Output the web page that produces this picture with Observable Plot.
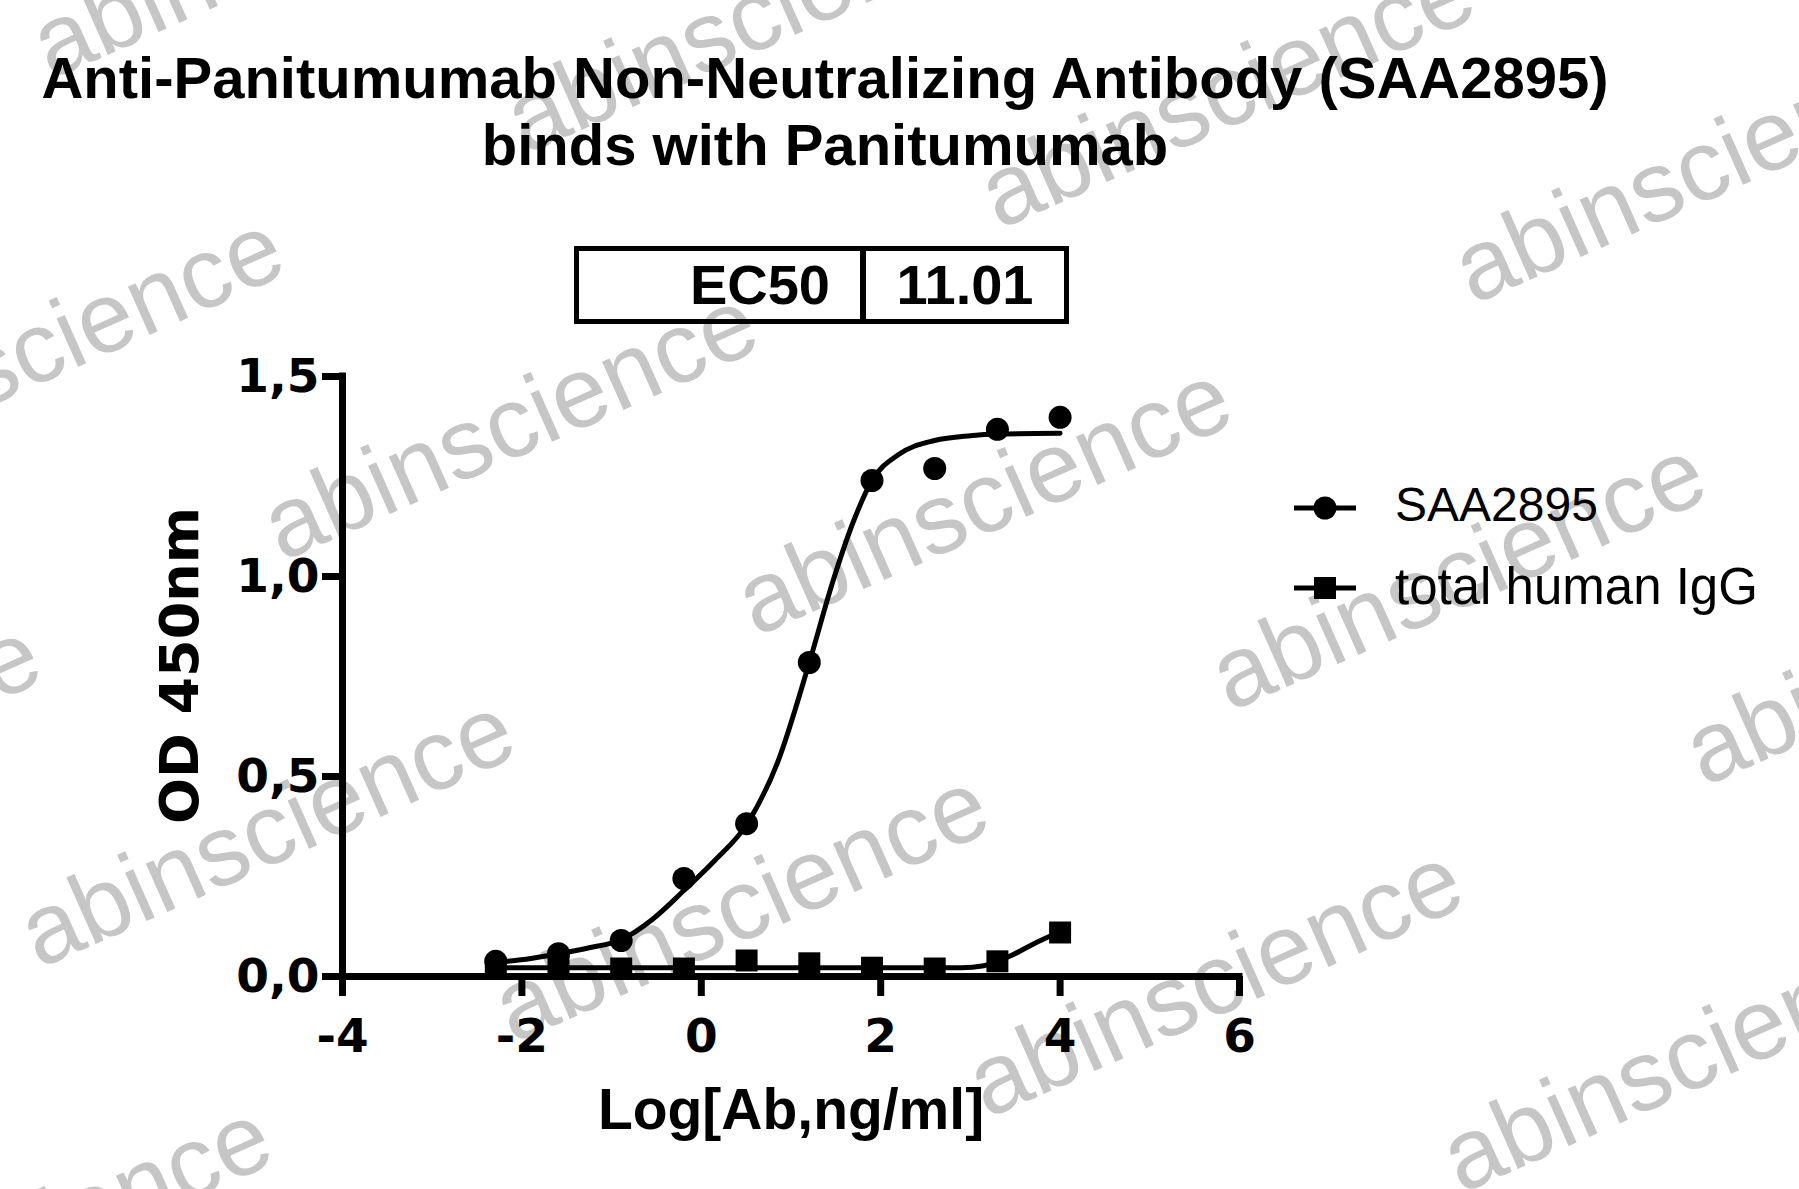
<!DOCTYPE html>
<html>
<head>
<meta charset="utf-8">
<script src="https://cdn.jsdelivr.net/npm/d3@7"></script>
<script src="https://cdn.jsdelivr.net/npm/@observablehq/plot@0.6"></script>
<style>
  html, body { margin: 0; padding: 0; background: #fff; }
  #page { position: relative; width: 1799px; height: 1189px; overflow: hidden; background: #fff; }
  #wm { position: absolute; left: 0; top: 0; }
  #chart { position: absolute; left: 0; top: 0; }
  #title { position: absolute; left: 0; top: 44px; width: 1650px; text-align: center;
           font-family: "Liberation Sans", Arial, sans-serif; font-weight: bold; font-size: 58px; line-height: 67px; color: #000; }
  #ec50 { position: absolute; left: 574px; top: 246px; width: 495px; height: 78px; box-sizing: border-box;
          border: 5px solid #000; display: flex; font-family: "Liberation Sans", Arial, sans-serif; font-weight: bold;
          font-size: 56px; line-height: 62px; }
  #ec50 .c1 { width: 281px; text-align: right; padding-right: 30px; box-sizing: border-box; padding-top: 3px; }
  #ec50 .c2 { flex: 1; border-left: 6px solid #000; text-align: center; padding-top: 3px; }
  #legend { position: absolute; left: 0; top: 0; }
</style>
</head>
<body>
<div id="page">
  <svg id="wm" width="1799" height="1189"></svg>
  <div id="chart"></div>
  <div id="title">Anti-Panitumumab Non-Neutralizing Antibody (SAA2895)<br>binds with Panitumumab</div>
  <div id="ec50"><div class="c1">EC50</div><div class="c2">11.01</div></div>
  <svg id="legend" width="1799" height="1189"></svg>
</div>
<script>
// ---- data ----
const logConc = [-2.291, -1.592, -0.893, -0.194, 0.505, 1.204, 1.903, 2.602, 3.301, 4.0];
const saa2895 = [0.038, 0.057, 0.090, 0.245, 0.382, 0.785, 1.240, 1.270, 1.368, 1.398];
const totalIgG = [0.020, 0.023, 0.020, 0.020, 0.040, 0.033, 0.022, 0.020, 0.038, 0.110];

// fitted curves
const saaFitX = [-2.291, -1.9, -1.592, -1.25, -0.893, -0.55, -0.194, 0.15, 0.505, 0.85, 1.204, 1.47, 1.7, 1.903, 2.2, 2.6, 3.0, 3.3, 4.0];
const saaFitY = [0.035, 0.045, 0.057, 0.072, 0.092, 0.142, 0.215, 0.29, 0.38, 0.535, 0.785, 0.99, 1.14, 1.24, 1.305, 1.34, 1.352, 1.356, 1.358];
const iggFitX = [-2.291, 0, 2.9, 3.15, 3.3, 3.45, 3.65, 3.86, 4.0];
const iggFitY = [0.022, 0.022, 0.022, 0.027, 0.038, 0.052, 0.075, 0.098, 0.110];

const xTicks = [-4, -2, 0, 2, 4, 6];
const yTicks = [0, 0.5, 1.0, 1.5];
const seriesNames = ["SAA2895", "total human IgG"];
const xLabel = "Log[Ab,ng/ml]";
const yLabel = "OD 450nm";
const watermarkText = "abinscience";

// ---- build tables ----
const saaPts = logConc.map((x, i) => ({x, y: saa2895[i]}));
const iggPts = logConc.map((x, i) => ({x, y: totalIgG[i]}));
const saaFit = saaFitX.map((x, i) => ({x, y: saaFitY[i]}));
const iggFit = iggFitX.map((x, i) => ({x, y: iggFitY[i]}));

const plot = Plot.plot({
  width: 1799,
  height: 1189,
  marginLeft: 342,
  marginRight: 560,
  marginTop: 376,
  marginBottom: 213,
  x: {domain: [-4, 6]},
  y: {domain: [0, 1.5]},
  style: {fontFamily: "DejaVu Sans", fontWeight: "bold", fontSize: "46px", background: "transparent", color: "#000", overflow: "visible"},
  marks: [
    Plot.line(iggFit, {x: "x", y: "y", stroke: "#000", strokeWidth: 5, curve: "monotone-x"}),
    Plot.line(saaFit, {x: "x", y: "y", stroke: "#000", strokeWidth: 5, curve: "monotone-x"}),
    Plot.dot(iggPts, {x: "x", y: "y", symbol: "square", r: 12.4, fill: "#000", stroke: null}),
    Plot.dot(saaPts, {x: "x", y: "y", symbol: "circle", r: 11.5, fill: "#000", stroke: null}),
    Plot.ruleX([-4], {y1: 0, y2: 1.5, stroke: "#000", strokeWidth: 7, strokeLinecap: "square"}),
    Plot.ruleY([0], {x1: -4, x2: 6, stroke: "#000", strokeWidth: 7, strokeLinecap: "square"}),
    Plot.axisX({ticks: xTicks, tickSize: 20, tickPadding: 22, strokeWidth: 7, label: null,
                tickFormat: d => String(d), fontSize: 47, fontWeight: "bold", fontFamily: "DejaVu Sans"}),
    Plot.axisY({ticks: yTicks, tickSize: 20, tickPadding: 3, strokeWidth: 7, label: null,
                tickFormat: d => d.toFixed(1).replace(".", ","), fontSize: 47, fontWeight: "bold", fontFamily: "DejaVu Sans"}),
    Plot.text([yLabel], {frameAnchor: "left", text: d => d, rotate: -90, dx: -162, dy: -11,
                lineAnchor: "middle", textAnchor: "middle", fontSize: 54, fontWeight: "bold", fontFamily: "DejaVu Sans"}),
    Plot.text([xLabel], {frameAnchor: "bottom", text: d => d, dy: 152, lineAnchor: "bottom",
                textAnchor: "middle", fontSize: 57, fontWeight: "bold", fontFamily: "Liberation Sans"})
  ]
});
document.getElementById("chart").appendChild(plot);

// ---- legend ----
const lg = d3.select("#legend");
const legendRows = [
  {name: seriesNames[0], symbol: "circle", cy: 508, base: 521, size: 48},
  {name: seriesNames[1], symbol: "square", cy: 588, base: 604, size: 51}
];
legendRows.forEach(r => {
  lg.append("line").attr("x1", 1294).attr("x2", 1356).attr("y1", r.cy).attr("y2", r.cy)
    .attr("stroke", "#000").attr("stroke-width", 5);
  if (r.symbol === "circle") {
    lg.append("circle").attr("cx", 1325).attr("cy", r.cy).attr("r", 11.5).attr("fill", "#000");
  } else {
    lg.append("rect").attr("x", 1325 - 11).attr("y", r.cy - 11).attr("width", 22).attr("height", 22).attr("fill", "#000");
  }
  lg.append("text").attr("x", 1395).attr("y", r.base).text(r.name)
    .attr("font-family", "Liberation Sans, Arial, sans-serif").attr("font-size", r.size).attr("fill", "#000");
});

// ---- watermark ----
const wm = d3.select("#wm");
const ax = 474, ay = 75, bx = -243, by = 407, ox = 282, oy = 562;
for (let i = -4; i <= 5; i++) {
  for (let j = -3; j <= 4; j++) {
    const px = ox + i * ax + j * bx, py = oy + i * ay + j * by;
    if (px < -650 || px > 1850 || py < -50 || py > 1500) continue;
    wm.append("text").attr("x", 0).attr("y", 0)
      .attr("transform", `translate(${px},${py}) rotate(-24)`)
      .attr("font-family", "Liberation Sans, Arial, sans-serif").attr("font-size", 100)
      .attr("fill", "#c6c6c6").text(watermarkText);
  }
}
</script>
</body>
</html>
